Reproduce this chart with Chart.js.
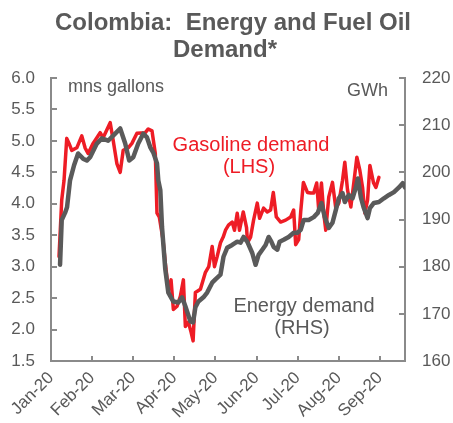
<!DOCTYPE html>
<html>
<head>
<meta charset="utf-8">
<script src="https://cdn.jsdelivr.net/npm/chart.js@4.4.1/dist/chart.umd.min.js"></script>
<style>
    html, body { margin: 0; padding: 0; background: #fff; }
    #wrap { width: 453px; height: 423px; position: relative; }
</style>
</head>
<body>
<div id="wrap"><canvas id="chart"></canvas></div>
<script>
// x values are months since 1 Jan 2020 (0 = Jan-20, 1 = Feb-20, ...)
var monthLabels = ['Jan-20', 'Feb-20', 'Mar-20', 'Apr-20', 'May-20', 'Jun-20', 'Jul-20', 'Aug-20', 'Sep-20'];

var gasolineX = [0.195, 0.261, 0.317, 0.383, 0.439, 0.505, 0.627, 0.749, 0.829, 0.902,
    1.024, 1.195, 1.268, 1.439, 1.512, 1.602, 1.683, 1.756, 1.878, 1.968,
    2.090, 2.293, 2.366, 2.456, 2.537, 2.578, 2.634, 2.724, 2.780, 2.854,
    2.920, 2.976, 3.066, 3.146, 3.220, 3.268, 3.341, 3.407, 3.456, 3.512,
    3.634, 3.756, 3.837, 3.920, 3.976, 4.041, 4.122, 4.188, 4.244, 4.317,
    4.407, 4.463, 4.529, 4.585, 4.676, 4.756, 4.780, 4.854, 4.927, 5.017,
    5.073, 5.171, 5.261, 5.341, 5.407, 5.480, 5.585, 5.707, 5.829, 5.902,
    5.951, 6.024, 6.073, 6.139, 6.237, 6.317, 6.390, 6.463, 6.512, 6.578,
    6.634, 6.683, 6.756, 6.846, 6.927, 7.000, 7.090, 7.146, 7.212, 7.293,
    7.366, 7.439, 7.512, 7.578, 7.634, 7.700, 7.756, 7.846, 7.902, 7.976];
var gasolineDemand = [3.16, 4.06, 4.37, 5.04, 4.96, 4.85, 4.89, 5.08, 4.89, 4.80,
    4.96, 5.13, 5.05, 5.29, 5.01, 4.64, 4.50, 4.85, 4.89, 4.96,
    5.12, 5.13, 5.19, 5.16, 4.80, 3.85, 3.79, 3.43, 3.06, 2.64,
    2.79, 2.32, 2.37, 2.53, 2.79, 2.05, 2.12, 1.96, 1.82, 2.59,
    2.64, 2.91, 3.00, 3.32, 3.00, 3.16, 3.38, 3.47, 3.58, 3.66,
    3.71, 3.58, 3.85, 3.58, 3.87, 3.62, 3.38, 3.47, 3.74, 4.01,
    3.77, 3.93, 3.87, 3.90, 4.18, 3.79, 3.71, 3.74, 3.79, 3.90,
    3.35, 3.43, 3.87, 4.34, 4.18, 4.17, 4.17, 4.33, 3.90, 4.33,
    3.85, 3.58, 4.11, 4.34, 3.93, 4.01, 4.37, 4.66, 4.22, 3.95,
    4.34, 4.74, 4.53, 4.26, 3.85, 4.06, 4.61, 4.33, 4.26, 4.42];

var energyX = [0.220, 0.261, 0.341, 0.390, 0.463, 0.561, 0.659, 0.780, 0.871, 0.951,
    1.115, 1.237, 1.390, 1.561, 1.683, 1.805, 1.902, 2.000, 2.122, 2.244,
    2.334, 2.415, 2.488, 2.578, 2.610, 2.659, 2.700, 2.780, 2.854, 2.976,
    3.098, 3.188, 3.268, 3.390, 3.456, 3.512, 3.585, 3.707, 3.798, 3.920,
    4.000, 4.122, 4.195, 4.285, 4.407, 4.529, 4.610, 4.683, 4.773, 4.895,
    4.976, 5.049, 5.139, 5.220, 5.293, 5.359, 5.415, 5.505, 5.561, 5.659,
    5.780, 5.902, 5.993, 6.073, 6.146, 6.268, 6.390, 6.488, 6.578, 6.659,
    6.756, 6.846, 6.927, 7.000, 7.090, 7.146, 7.244, 7.334, 7.415, 7.463,
    7.537, 7.602, 7.700, 7.756, 7.854, 7.976, 8.098, 8.220, 8.341, 8.463,
    8.554, 8.610];
var energyDemand = [180.4, 189.9, 191.4, 192.6, 198.3, 201.5, 204.0, 202.9, 202.5, 203.2,
    206.1, 207.2, 206.7, 208.2, 209.3, 206.1, 202.5, 203.2, 206.1, 208.2,
    207.4, 205.3, 204.2, 201.9, 198.3, 196.2, 188.4, 179.4, 174.5, 172.6,
    172.4, 173.5, 171.6, 168.4, 168.2, 171.4, 172.6, 173.5, 174.5, 176.6,
    177.3, 178.3, 182.1, 184.0, 184.6, 185.3, 185.1, 186.3, 185.3, 182.9,
    180.4, 182.5, 183.6, 184.6, 186.3, 185.3, 184.2, 183.6, 185.3, 185.7,
    186.3, 187.2, 187.2, 187.8, 189.9, 189.9, 190.5, 191.4, 193.5, 190.5,
    188.2, 189.3, 192.0, 194.5, 195.6, 193.7, 195.2, 194.5, 196.8, 198.7,
    194.7, 192.6, 190.3, 192.4, 193.5, 193.7, 194.5, 195.2, 195.8, 196.8,
    197.7, 196.8];

var FONT = '"Liberation Sans", Arial, sans-serif';
var TEXT = '#595959';
var AXIS = '#8a8a8a';
var RED = '#ee1c25';

function toPoints(xs, ys) {
    return xs.map(function (x, i) { return { x: x, y: ys[i] }; });
}

// title, unit labels, series labels and inward tick marks
var decorations = {
    id: 'decorations',
    afterDraw: function (chart) {
        var ctx = chart.ctx;
        var area = chart.chartArea;
        ctx.save();

        ctx.fillStyle = TEXT;
        ctx.textAlign = 'center';
        ctx.textBaseline = 'alphabetic';
        ctx.font = 'bold 24px ' + FONT;
        ctx.fillText('Colombia:  Energy and Fuel Oil', 233, 30);
        ctx.fillText('Demand*', 225, 57);

        ctx.font = '18px ' + FONT;
        ctx.textAlign = 'left';
        ctx.fillText('mns gallons', 68, 92);
        ctx.textAlign = 'right';
        ctx.fillText('GWh', 388, 96);

        ctx.font = '20px ' + FONT;
        ctx.textAlign = 'center';
        ctx.fillStyle = RED;
        ctx.fillText('Gasoline demand', 251, 151);
        ctx.fillText('(LHS)', 249, 173);
        ctx.fillStyle = TEXT;
        ctx.fillText('Energy demand', 304, 312);
        ctx.fillText('(RHS)', 302, 334);

        ctx.strokeStyle = AXIS;
        ctx.lineWidth = 2;
        ctx.beginPath();
        chart.scales.y.ticks.forEach(function (t) {
            var py = Math.round(chart.scales.y.getPixelForValue(t.value));
            ctx.moveTo(area.left, py);
            ctx.lineTo(area.left + 6, py);
        });
        chart.scales.y2.ticks.forEach(function (t) {
            var py = Math.round(chart.scales.y2.getPixelForValue(t.value));
            ctx.moveTo(area.right, py);
            ctx.lineTo(area.right - 6, py);
        });
        chart.scales.x.ticks.forEach(function (t) {
            var px = Math.round(chart.scales.x.getPixelForValue(t.value));
            ctx.moveTo(px, area.bottom);
            ctx.lineTo(px, area.bottom - 5);
        });
        ctx.stroke();
        ctx.restore();
    }
};

new Chart(document.getElementById('chart'), {
    type: 'line',
    data: {
        datasets: [{
            label: 'Energy demand (RHS)',
            data: toPoints(energyX, energyDemand),
            yAxisID: 'y2',
            borderColor: '#5a5a5a',
            borderWidth: 4.5,
            pointRadius: 0,
            tension: 0,
            borderJoinStyle: 'round',
            borderCapStyle: 'round',
            order: 0
        }, {
            label: 'Gasoline demand (LHS)',
            data: toPoints(gasolineX, gasolineDemand),
            yAxisID: 'y',
            borderColor: RED,
            borderWidth: 3.5,
            pointRadius: 0,
            tension: 0,
            borderJoinStyle: 'round',
            borderCapStyle: 'round',
            order: 1
        }]
    },
    options: {
        responsive: true,
        maintainAspectRatio: false,
        animation: false,
        layout: { padding: { top: 78, left: 0, right: 0, bottom: 0 } },
        plugins: {
            legend: { display: false },
            tooltip: { enabled: false },
            title: { display: false }
        },
        scales: {
            x: {
                type: 'linear',
                min: 0,
                max: 8.61,
                afterBuildTicks: function (scale) {
                    scale.ticks = monthLabels.map(function (l, i) { return { value: i }; });
                },
                afterFit: function (scale) {
                    scale.height = 62;
                    scale.paddingLeft = 0;
                    scale.paddingRight = 0;
                },
                grid: { display: true, drawOnChartArea: false, drawTicks: false },
                border: { display: true, color: AXIS, width: 2 },
                ticks: {
                    autoSkip: false,
                    minRotation: 45,
                    maxRotation: 45,
                    padding: 7,
                    color: TEXT,
                    font: { family: FONT, size: 17 },
                    callback: function (value) { return monthLabels[value]; }
                }
            },
            y: {
                position: 'left',
                min: 1.5,
                max: 6.0,
                afterFit: function (scale) {
                    scale.width = 51;
                    scale.paddingTop = 0;
                    scale.paddingBottom = 0;
                },
                grid: { display: true, drawOnChartArea: false, drawTicks: false },
                border: { display: true, color: AXIS, width: 2 },
                ticks: {
                    stepSize: 0.5,
                    padding: 16,
                    color: TEXT,
                    font: { family: FONT, size: 17 },
                    callback: function (value) { return value.toFixed(1); }
                }
            },
            y2: {
                position: 'right',
                min: 160,
                max: 220,
                afterFit: function (scale) {
                    scale.width = 48;
                    scale.paddingTop = 0;
                    scale.paddingBottom = 0;
                },
                grid: { display: true, drawOnChartArea: false, drawTicks: false },
                border: { display: true, color: AXIS, width: 2 },
                ticks: {
                    stepSize: 10,
                    padding: 17,
                    color: TEXT,
                    font: { family: FONT, size: 17 }
                }
            }
        }
    },
    plugins: [decorations]
});
</script>
</body>
</html>
